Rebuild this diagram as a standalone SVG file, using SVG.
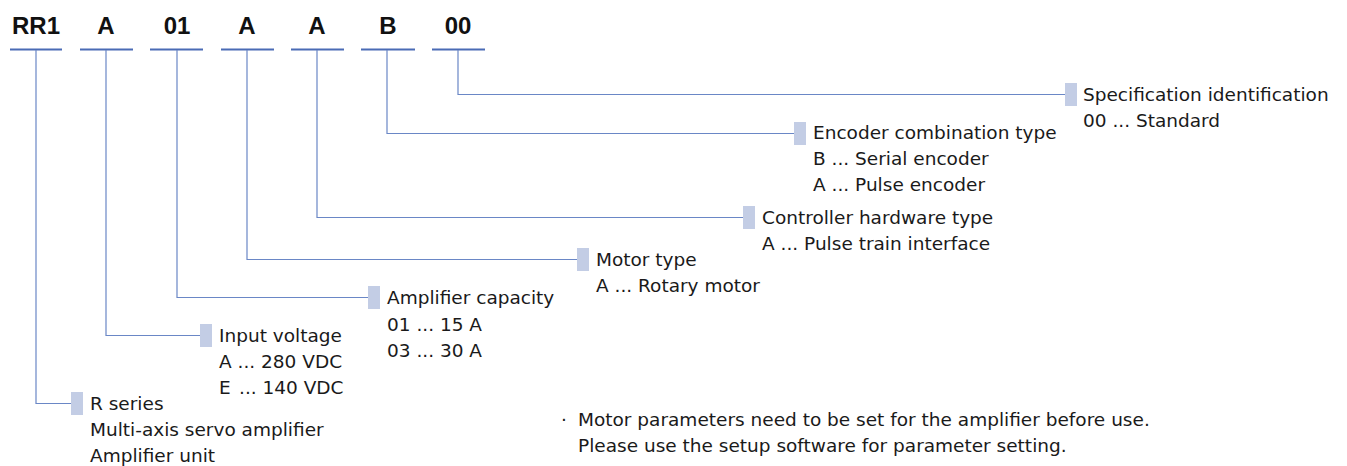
<svg xmlns="http://www.w3.org/2000/svg" width="1347" height="466" viewBox="0 0 1347 466">
<style>
.code{font-family:"Liberation Sans",Arial,sans-serif;font-weight:bold;font-size:24px;fill:#111;text-anchor:middle}
.ul{stroke:#4a6bb5;stroke-width:2.2;fill:none}
.cn{stroke:#6a87c6;stroke-width:1.2;fill:none}
.sq{fill:#c3cde5}
.t{font-family:"DejaVu Sans","Liberation Sans",sans-serif;font-size:18.5px;fill:#1a1a1a}
</style>
<rect width="1347" height="466" fill="#fff"/>
<g id="code">
<text class="code" x="36" y="34">RR1</text>
<text class="code" x="106" y="34">A</text>
<text class="code" x="177" y="34">01</text>
<text class="code" x="247" y="34">A</text>
<text class="code" x="317" y="34">A</text>
<text class="code" x="388" y="34">B</text>
<text class="code" x="458" y="34">00</text>
</g>
<g id="connectors">
<path class="ul" d="M10 49.5H62M80 49.5H133M150 49.5H203M221 49.5H274M291 49.5H344M361 49.5H415M432 49.5H485"/>
<path class="cn" d="M36 50V403.5H71"/>
<path class="cn" d="M106 50V335.5H200"/>
<path class="cn" d="M177 50V297.5H368"/>
<path class="cn" d="M247 50V259.5H577"/>
<path class="cn" d="M317 50V217.5H743"/>
<path class="cn" d="M387 50V133.5H794"/>
<path class="cn" d="M458 50V94.5H1065"/>
</g>
<g id="node-rseries">
<rect class="sq" x="71" y="392" width="12" height="23"/>
<text class="t" x="90" y="410">R series</text>
<text class="t" x="90" y="436">Multi-axis servo amplifier</text>
<text class="t" x="90" y="462">Amplifier unit</text>
</g>
<g id="node-input">
<rect class="sq" x="200" y="324" width="12" height="23"/>
<text class="t" x="219" y="342">Input voltage</text>
<text class="t" x="219" y="368">A ... 280 VDC</text>
<text class="t" x="219" y="394">E<tspan x="239">... 140 VDC</tspan></text>
</g>
<g id="node-capacity">
<rect class="sq" x="368" y="286" width="12" height="23"/>
<text class="t" x="387" y="304">Amplifier capacity</text>
<text class="t" x="387" y="331">01 ... 15 A</text>
<text class="t" x="387" y="357">03 ... 30 A</text>
</g>
<g id="node-motor">
<rect class="sq" x="577" y="248" width="12" height="23"/>
<text class="t" x="596" y="266">Motor type</text>
<text class="t" x="596" y="292">A ... Rotary motor</text>
</g>
<g id="node-controller">
<rect class="sq" x="743" y="206" width="12" height="23"/>
<text class="t" x="762" y="224">Controller hardware type</text>
<text class="t" x="762" y="250">A ... Pulse train interface</text>
</g>
<g id="node-encoder">
<rect class="sq" x="794" y="122" width="12" height="23"/>
<text class="t" x="813" y="139">Encoder combination type</text>
<text class="t" x="813" y="165">B ... Serial encoder</text>
<text class="t" x="813" y="191">A ... Pulse encoder</text>
</g>
<g id="node-spec">
<rect class="sq" x="1065" y="83" width="12" height="23"/>
<text class="t" x="1083" y="101">Specification identification</text>
<text class="t" x="1083" y="127">00 ... Standard</text>
</g>
<g id="note">
<text class="t" x="564" y="426" text-anchor="middle">·</text>
<text class="t" x="578" y="426">Motor parameters need to be set for the amplifier before use.</text>
<text class="t" x="578" y="452">Please use the setup software for parameter setting.</text>
</g>
</svg>
